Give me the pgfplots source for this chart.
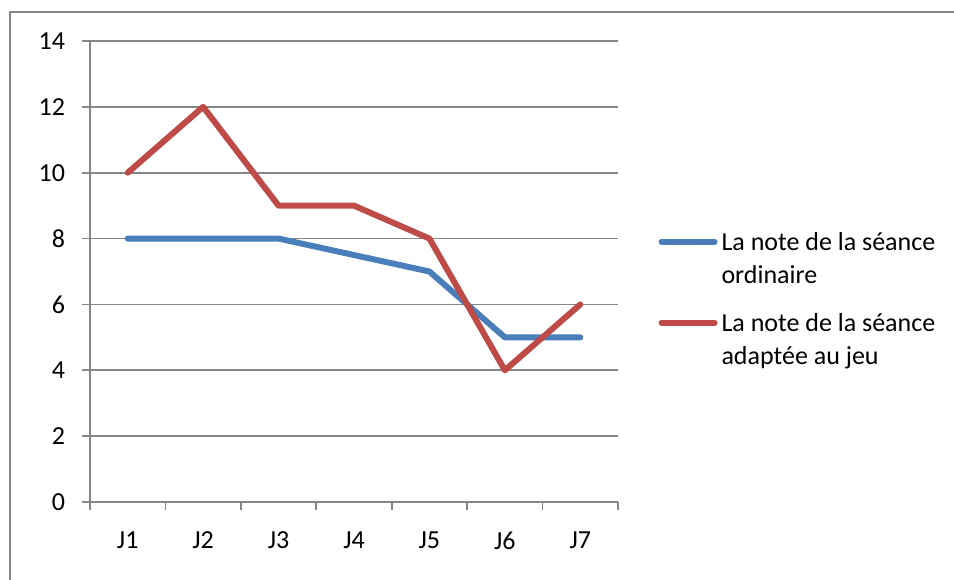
\documentclass[border=0pt]{standalone}
\usepackage{pgfplots}
\pgfplotsset{compat=1.18}
\usepackage{fontspec}
\setmainfont{Carlito}
\definecolor{serieA}{HTML}{4A7EBB}
\definecolor{serieB}{HTML}{BE4B48}
\definecolor{gridgray}{HTML}{868686}
\begin{document}
\fontsize{13}{16.5}\selectfont
\begin{tikzpicture}
\useasboundingbox (0,-289.5pt) rectangle (477pt,0pt);
% cadre du graphique
\draw[gridgray, line width=1pt] (5pt,-300pt) -- (5pt,-6pt) -- (490pt,-6pt);
\begin{axis}[
  at={(45pt,-251pt)}, anchor=south west,
  scale only axis, width=264pt, height=230.5pt,
  xmin=0.5, xmax=7.5, ymin=0, ymax=14,
  axis x line*=bottom, axis y line*=left,
  axis line style={gridgray, line width=0.9pt, -},
  xtick={1,2,3,4,5,6,7},
  xticklabels={J1,J2,J3,J4,J5,J6,J7},
  major x tick style={draw=none},
  minor xtick={0.5,1.5,2.5,3.5,4.5,5.5,6.5,7.5},
  ytick={0,2,4,6,8,10,12,14},
  tick align=outside, major tick length=4pt, minor tick length=4pt,
  tick style={gridgray, line width=0.9pt},
  ymajorgrids, grid style={gridgray, line width=0.9pt},
  /pgf/number format/assume math mode=true,
  ticklabel style={font=\fontsize{13}{16.5}\selectfont},
  yticklabel style={xshift=-4pt},
  xticklabel style={yshift=-6.5pt},
  legend style={draw=none, fill=none, at={(1.076,0.594)}, anchor=north west,
    inner sep=0pt, row sep=9pt, column sep=0pt,
    font=\fontsize{13}{16.5}\selectfont,
    cells={align=left, anchor=base west, inner xsep=0.3pt}},
  legend image code/.code={\draw[#1] (0pt,21pt) -- (26.5pt,21pt);},
]
\addplot[serieA, line width=3pt, line join=round, line cap=round]
  coordinates {(1,8) (2,8) (3,8) (4,7.5) (5,7) (6,5) (7,5)};
\addlegendentry{La note de la séance\\ordinaire}
\addplot[serieB, line width=3pt, line join=round, line cap=round]
  coordinates {(1,10) (2,12) (3,9) (4,9) (5,8) (6,4) (7,6)};
\addlegendentry{La note de la séance\\adaptée au jeu}
\end{axis}
\end{tikzpicture}
\end{document}
